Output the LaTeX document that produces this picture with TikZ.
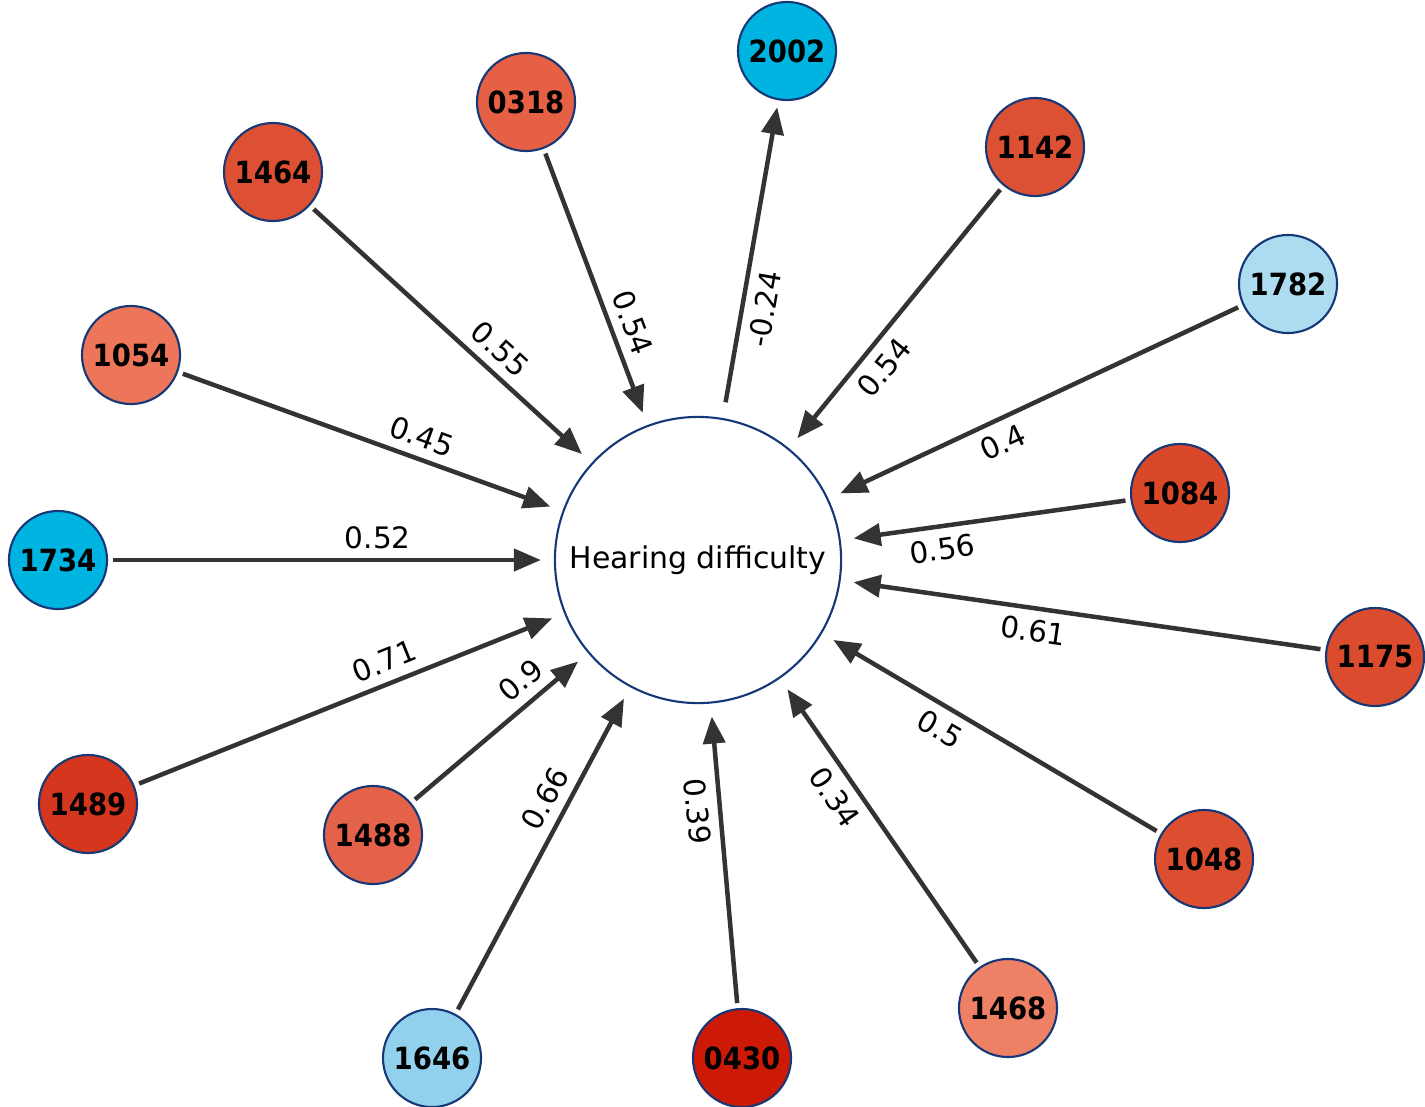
\documentclass[tikz,border=0pt]{standalone}
\usepackage{fontspec}
\setmainfont{DejaVu Sans}
\newfontfamily\idfont{DejaVu Sans Condensed}
\usetikzlibrary{arrows.meta}
\definecolor{rim}{RGB}{22,56,118}
\definecolor{linkgray}{RGB}{51,51,51}
\definecolor{cyanhi}{RGB}{0,180,226}
\definecolor{c1782}{RGB}{173,220,240}
\definecolor{c1646}{RGB}{146,209,238}
\definecolor{c0318}{RGB}{229,96,68}
\definecolor{c1464}{RGB}{221,80,51}
\definecolor{c1054}{RGB}{237,118,90}
\definecolor{c1142}{RGB}{220,80,52}
\definecolor{c1084}{RGB}{218,72,42}
\definecolor{c1175}{RGB}{219,76,46}
\definecolor{c1048}{RGB}{220,78,48}
\definecolor{c1468}{RGB}{238,128,102}
\definecolor{c0430}{RGB}{204,26,6}
\definecolor{c1489}{RGB}{213,54,30}
\definecolor{c1488}{RGB}{228,98,73}
\begin{document}
\begin{tikzpicture}[x=0.01cm, y=-0.01cm,
  predictor/.style={circle, draw=rim, line width=0.6pt, minimum size=0.98cm, inner sep=0pt,
    font=\idfont\bfseries\fontsize{8.7}{10}\selectfont},
  outcome/.style={circle, draw=rim, line width=0.6pt, minimum size=2.86cm, inner sep=0pt,
    font=\fontsize{8.5}{10}\selectfont},
  link/.style={draw=linkgray, line width=0.045cm, -{Triangle[length=0.27cm,width=0.22cm]},
    shorten >=0.13cm, shorten <=0.05cm},
  wlabel/.style={sloped, inner sep=2.6pt, font=\fontsize{8.4}{10}\selectfont}]
\useasboundingbox (0,0) rectangle (1425,1106);

% outcome in the middle
\node[outcome] (hd) at (698,560) {Hearing difficulty};

% predictors round it
\node[predictor, fill=cyanhi] (v2002) at (787,51) {2002};
\node[predictor, fill=c0318] (v0318) at (526,102) {0318};
\node[predictor, fill=c1464] (v1464) at (273,172) {1464};
\node[predictor, fill=c1054] (v1054) at (131,355) {1054};
\node[predictor, fill=cyanhi] (v1734) at (58,560) {1734};
\node[predictor, fill=c1489] (v1489) at (88,804) {1489};
\node[predictor, fill=c1488] (v1488) at (373,835) {1488};
\node[predictor, fill=c1646] (v1646) at (432,1058) {1646};
\node[predictor, fill=c0430] (v0430) at (742,1058) {0430};
\node[predictor, fill=c1468] (v1468) at (1008,1008) {1468};
\node[predictor, fill=c1048] (v1048) at (1204,859) {1048};
\node[predictor, fill=c1175] (v1175) at (1375,657) {1175};
\node[predictor, fill=c1084] (v1084) at (1180,493) {1084};
\node[predictor, fill=c1782] (v1782) at (1288,284) {1782};
\node[predictor, fill=c1142] (v1142) at (1035,147) {1142};

% weighted links
\draw[link, shorten <=0.16cm, shorten >=0.07cm] (hd) -- node[wlabel, pos=0.355, below] {-0.24} (v2002);
\draw[link] (v0318) -- node[wlabel, pos=0.658, above] {0.54} (hd);
\draw[link] (v1464) -- node[wlabel, pos=0.622, above] {0.55} (hd);
\draw[link] (v1054) -- node[wlabel, pos=0.614, above] {0.45} (hd);
\draw[link] (v1734) -- node[wlabel, pos=0.605, above] {0.52} (hd);
\draw[link] (v1489) -- node[wlabel, pos=0.601, above] {0.71} (hd);
\draw[link] (v1488) -- node[wlabel, pos=0.701, above] {0.9} (hd);
\draw[link] (v1646) -- node[wlabel, pos=0.626, above] {0.66} (hd);
\draw[link] (v0430) -- node[wlabel, pos=0.653, below] {0.39} (hd);
\draw[link] (v1468) -- node[wlabel, pos=0.633, below] {0.34} (hd);
\draw[link] (v1048) -- node[wlabel, pos=0.619, below] {0.5} (hd);
\draw[link] (v1175) -- node[wlabel, pos=0.596, below] {0.61} (hd);
\draw[link] (v1084) -- node[wlabel, pos=0.660, below] {0.56} (hd);
\draw[link] (v1782) -- node[wlabel, pos=0.602, below] {0.4} (hd);
\draw[link] (v1142) -- node[wlabel, pos=0.638, below] {0.54} (hd);
\end{tikzpicture}
\end{document}
